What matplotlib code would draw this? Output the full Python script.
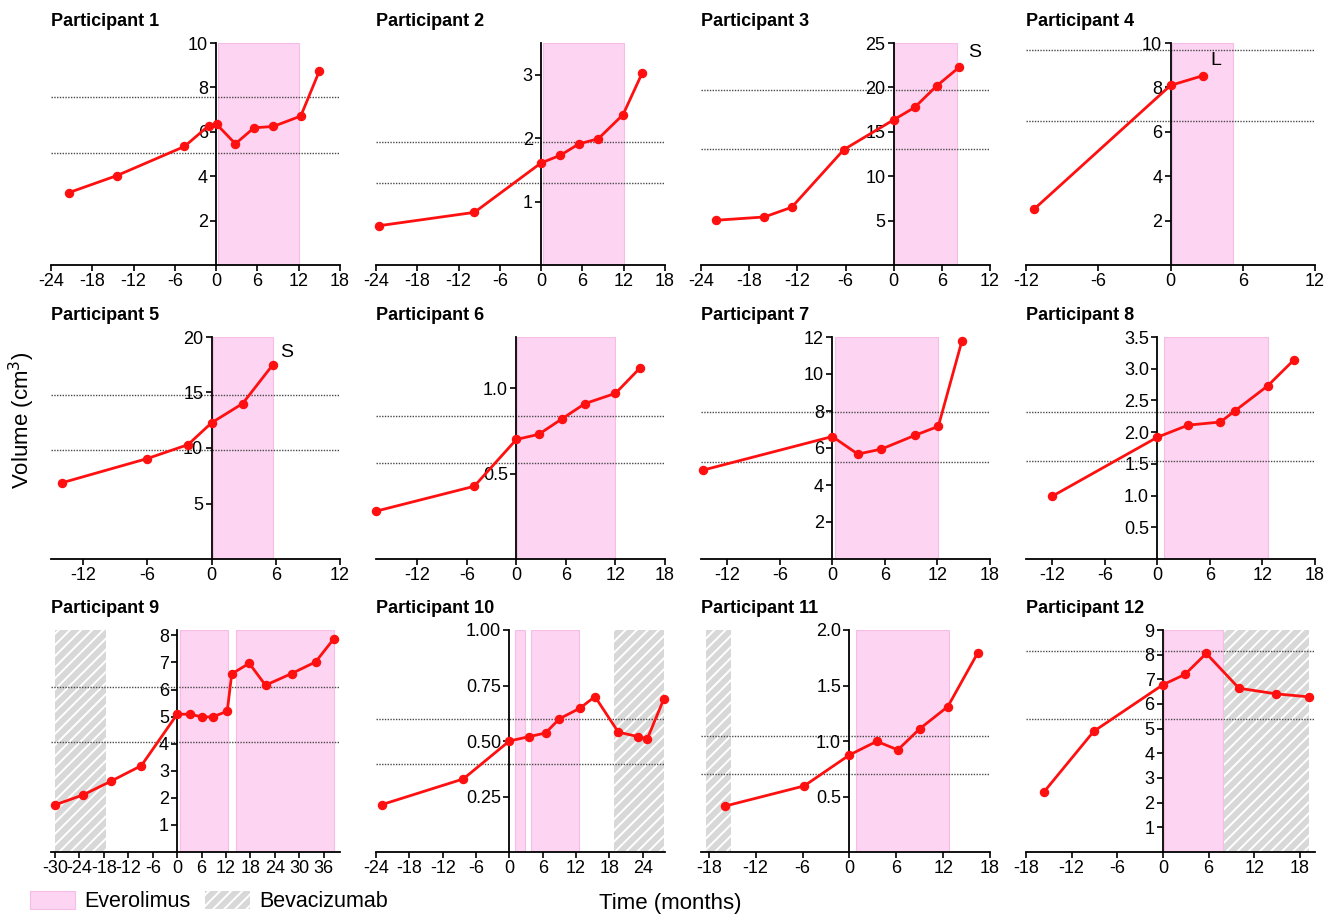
import matplotlib.pyplot as plt
from matplotlib.patches import Patch

plt.rcParams['font.family'] = ['Liberation Sans', 'DejaVu Sans']
plt.rcParams['hatch.linewidth'] = 1.4

# time in months (0 = start of everolimus) and tumour volume (cm3)
p1_t = [-21.4, -14.4, -4.6, -1.1, 0.1, 2.8, 5.5, 8.3, 12.3, 15.0]
p1_v = [3.26, 4.03, 5.34, 6.27, 6.33, 5.46, 6.18, 6.24, 6.71, 8.74]
p2_t = [-23.5, -9.7, 0.0, 2.8, 5.5, 8.3, 11.9, 14.7]
p2_v = [0.62, 0.83, 1.61, 1.73, 1.91, 1.99, 2.37, 3.03]
p3_t = [-22.1, -16.1, -12.7, -6.2, 0.0, 2.6, 5.4, 8.2]
p3_v = [5.04, 5.41, 6.5, 13.0, 16.35, 17.74, 20.2, 22.3]
p4_t = [-11.3, 0.0, 2.7]
p4_v = [2.53, 8.09, 8.53]
p5_t = [-14.0, -6.0, -2.2, 0.0, 2.9, 5.7]
p5_v = [6.86, 9.05, 10.3, 12.27, 14.0, 17.47]
p6_t = [-17.0, -5.1, 0.0, 2.7, 5.5, 8.3, 12.0, 15.0]
p6_v = [0.28, 0.426, 0.70, 0.73, 0.82, 0.91, 0.97, 1.12]
p7_t = [-14.8, 0.0, 2.9, 5.6, 9.4, 12.1, 14.8]
p7_v = [4.8, 6.62, 5.67, 5.94, 6.68, 7.17, 11.8]
p8_t = [-12.0, 0.0, 3.5, 7.2, 8.9, 12.6, 15.6]
p8_v = [0.99, 1.92, 2.11, 2.16, 2.34, 2.73, 3.14]
p9_t = [-30.0, -23.1, -16.2, -8.8, 0.0, 3.2, 6.0, 8.7, 12.3, 13.4, 17.7, 21.7, 28.1, 34.0, 38.5]
p9_v = [1.74, 2.11, 2.62, 3.19, 5.09, 5.09, 4.99, 4.99, 5.2, 6.58, 6.97, 6.16, 6.59, 7.02, 7.88]
p10_t = [-23.0, -8.3, 0.0, 3.6, 6.5, 9.0, 12.7, 15.4, 19.6, 23.1, 24.8, 27.8]
p10_v = [0.213, 0.329, 0.50, 0.52, 0.536, 0.60, 0.648, 0.70, 0.54, 0.52, 0.509, 0.69]
p11_t = [-15.9, -5.8, 0.0, 3.5, 6.2, 9.0, 12.6, 16.4]
p11_v = [0.414, 0.595, 0.874, 0.997, 0.92, 1.11, 1.31, 1.79]
p12_t = [-15.6, -9.1, 0.0, 2.9, 5.7, 10.0, 14.9, 19.2]
p12_v = [2.45, 4.89, 6.78, 7.2, 8.05, 6.64, 6.41, 6.29]

# treatment periods (start, end) in months
everolimus = [
    [(0.3, 12.0)], [(0.3, 12.0)], [(0.1, 7.9)], [(0.1, 5.15)],
    [(0.1, 5.7)], [(0.1, 12.0)], [(0.3, 12.1)], [(0.8, 12.6)],
    [(0.6, 12.5), (14.4, 38.6)], [(1.0, 2.8), (3.9, 12.6)], [(0.8, 12.7)], [(0.2, 7.9)],
]
bevacizumab = [
    [], [], [], [], [], [], [], [],
    [(-30.0, -17.6)], [(18.8, 27.8)], [(-18.3, -15.1)], [(8.0, 19.25)],
]

# dotted reference lines (volume)
ref_lines = [
    (7.59, 5.05), (1.94, 1.30), (19.66, 13.08), (9.7, 6.47),
    (14.74, 9.8), (0.84, 0.56), (7.94, 5.27), (2.32, 1.54),
    (6.08, 4.06), (0.60, 0.398), (1.045, 0.70), (8.13, 5.41),
]

notes = {2: ("S", 10.1, 23.9), 3: ("L", 3.8, 9.2), 4: ("S", 7.0, 18.6)}

y_ticks = [
    [2, 4, 6, 8, 10], [1, 2, 3], [5, 10, 15, 20, 25], [2, 4, 6, 8, 10],
    [5, 10, 15, 20], [0.5, 1.0], [2, 4, 6, 8, 10, 12], [0.5, 1.0, 1.5, 2.0, 2.5, 3.0, 3.5],
    [1, 2, 3, 4, 5, 6, 7, 8], [0.25, 0.50, 0.75, 1.00], [0.5, 1.0, 1.5, 2.0], [1, 2, 3, 4, 5, 6, 7, 8, 9],
]
y_fmt = ["{:g}", "{:g}", "{:g}", "{:g}", "{:g}", "{:.1f}", "{:g}", "{:.1f}",
         "{:g}", "{:.2f}", "{:.1f}", "{:g}"]

x_ticks = [
    range(-24, 19, 6), range(-24, 19, 6), range(-24, 13, 6), range(-12, 13, 6),
    range(-12, 13, 6), range(-12, 19, 6), range(-12, 19, 6), range(-12, 19, 6),
    range(-30, 37, 6), range(-24, 25, 6), range(-18, 19, 6), range(-18, 19, 6),
]

# layout
x_lims = [(-24, 18), (-24, 18), (-24, 12), (-12, 12),
          (-15, 12), (-17, 18), (-15, 18), (-15, 18),
          (-31, 40), (-24, 28), (-19, 18), (-18, 20)]
y_lims = [(0, 10), (0, 3.5), (0, 25), (0, 10),
          (0, 20), (0, 1.3), (0, 12), (0, 3.5),
          (0, 8.2), (0, 1.0), (0, 2.0), (0, 9)]

times = [p1_t, p2_t, p3_t, p4_t, p5_t, p6_t, p7_t, p8_t, p9_t, p10_t, p11_t, p12_t]
vols = [p1_v, p2_v, p3_v, p4_v, p5_v, p6_v, p7_v, p8_v, p9_v, p10_v, p11_v, p12_v]

PINK = '#fdd4f1'
PINK_EDGE = '#f6bde6'
GREY = '#d8d8d8'

W, H = 1338, 917
fig = plt.figure(figsize=(W / 100, H / 100), dpi=100)

col_left = [51, 376, 701, 1026]
row_top = [43, 337, 630]
ax_w, ax_h = 289, 222

for i in range(12):
    r, c = divmod(i, 4)
    ax = fig.add_axes([col_left[c] / W, 1 - (row_top[r] + ax_h) / H, ax_w / W, ax_h / H])
    ax.set_xlim(*x_lims[i])
    ax.set_ylim(*y_lims[i])

    for a, b in everolimus[i]:
        ax.axvspan(a, b, facecolor=PINK, edgecolor=PINK_EDGE, lw=0.8, zorder=0)
    for a, b in bevacizumab[i]:
        ax.axvspan(a, b, facecolor=GREY, edgecolor='white', hatch='///', lw=0, zorder=0)

    for yl in ref_lines[i]:
        ax.axhline(yl, color='#4a4a4a', lw=1.0, ls=(0, (1, 1)), zorder=1)

    ax.plot(times[i], vols[i], color='#ff1010', lw=2, marker='o', ms=5.8, zorder=3, clip_on=False)

    if i in notes:
        s, nx, ny = notes[i]
        ax.text(nx, ny, s, fontsize=14, ha='center', va='center')

    ax.spines['top'].set_visible(False)
    ax.spines['right'].set_visible(False)
    ax.spines['left'].set_position(('data', 0))
    ax.spines['left'].set_linewidth(1.3)
    ax.spines['bottom'].set_linewidth(1.3)
    ax.spines['left'].set_zorder(2)

    ax.set_xticks(list(x_ticks[i]))
    ax.set_xticklabels([str(v) for v in x_ticks[i]])
    ax.set_yticks(y_ticks[i])
    ax.set_yticklabels([y_fmt[i].format(v) for v in y_ticks[i]])
    ax.tick_params(axis='both', labelsize=13, width=1.2, length=4, direction='out', pad=2)

    ax.set_title("Participant %d" % (i + 1), loc='left', fontsize=13, fontweight='bold', pad=12)

fig.text(0.016, 0.542, "Volume (cm$^3$)", rotation=90, ha='center', va='center', fontsize=16)
fig.text(0.501, 0.015, "Time (months)", ha='center', va='center', fontsize=16)

handles = [Patch(facecolor=PINK, edgecolor=PINK_EDGE, lw=0.8),
           Patch(facecolor=GREY, edgecolor='white', hatch='///', lw=0)]
fig.legend(handles, ["Everolimus", "Bevacizumab"], loc='lower left', bbox_to_anchor=(0.008, -0.016),
           ncol=2, frameon=False, fontsize=15.5, handlelength=2.1, handleheight=0.95,
           handletextpad=0.4, columnspacing=0.7)

fig.savefig("out.png", dpi=100)
